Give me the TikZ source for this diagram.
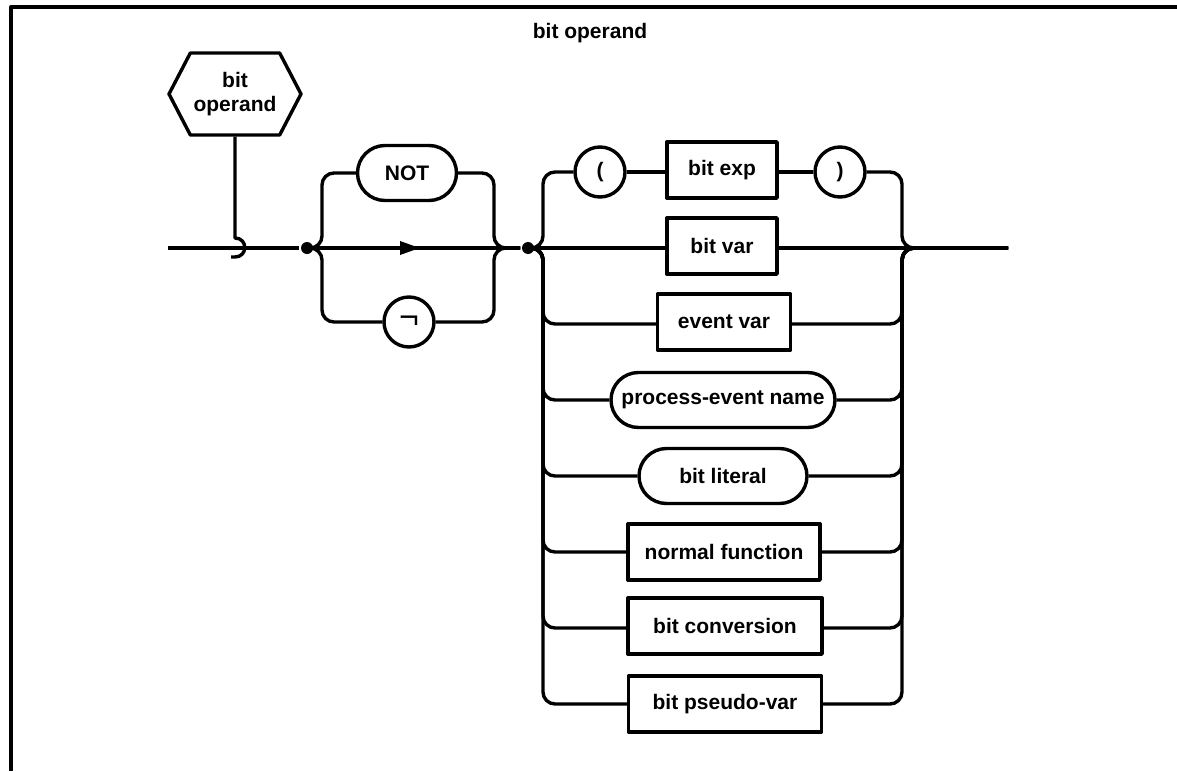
\documentclass[tikz,border=0pt]{standalone}
\usepackage{fontspec}
\setmainfont{Liberation Sans}
\usetikzlibrary{shapes.misc,shapes.symbols,arrows.meta}
\begin{document}
\begin{tikzpicture}[x=0.5pt,y=-0.5pt,
  line width=1.7pt, line join=round,
  every node/.style={font=\fontsize{10.5}{12}\selectfont\bfseries, inner sep=0pt},
  term/.style={draw, rectangle, minimum height=28pt},
  lit/.style={draw, rounded rectangle, minimum height=27.5pt},
  sym/.style={draw, circle, minimum size=25pt},
  conn/.style={rounded corners=6pt},
  dot/.style={circle, fill, minimum size=6pt}
]
\useasboundingbox (0,0) rectangle (1177,771);
\draw[line width=2pt] (11,771) -- (11,7) -- (1177,7);

\node (title) at (590,33) {bit operand};

\node[draw, signal, signal to=west and east, signal pointer angle=125,
      minimum width=66pt, minimum height=41pt, align=center,
      font=\fontsize{10.5}{12}\selectfont\bfseries] (hex) at (235,94) {bit\\operand};

\coordinate (start) at (168,248);
\node[dot] (d1) at (307,248) {};
\coordinate (arr) at (420,248);
\node[dot] (d2) at (528,248) {};
\coordinate (exit) at (1008,248);
\coordinate (hk) at (235,238);

\draw (start) -- (d1);
\draw (hex.south) -- (hk) .. controls +(13,0) and +(13,0) .. (235,257) -- +(-4,0);

\draw (d1) -- (d2);
\draw[-{Triangle[length=10pt,width=6.5pt]}] (d1) -- (arr);

\node[lit, minimum width=49.5pt] (not) at (407,173) {NOT};
\node[sym, font=\fontsize{17}{17}\selectfont] (neg) at (409,322) {¬};
\draw[conn] (d1) -- (322,248) -- (322,173) -- (not.west);
\draw[conn] (not.east) -- (494,173) -- (494,248) -- (d2);
\draw[conn] (d1) -- (322,248) -- (322,322) -- (neg.west);
\draw[conn] (neg.east) -- (494,322) -- (494,248) -- (d2);

\node[sym] (lp) at (600,172) {(};
\node[term, minimum width=55pt] (bexp) at (722,170) {bit exp};
\node[sym] (rp) at (840,172) {)};
\node[term, minimum width=55pt] (bvar) at (722,246) {bit var};
\node[term, minimum width=66.5pt] (evar) at (724,322) {event var};
\node[lit, minimum width=112pt] (pen) at (723,400) {process-event name};
\node[lit, minimum width=84pt] (blit) at (723,476) {bit literal};
\node[term, minimum width=96pt] (nfun) at (724,552) {normal function};
\node[term, minimum width=97pt] (bconv) at (725,626) {bit conversion};
\node[term, minimum width=96.5pt] (bpv) at (725,704) {bit pseudo-var};

\draw (d2) -- (d2 -| bvar.west);
\draw (bvar.east |- exit) -- (exit);
\draw[conn] (d2) -- (543,248) -- (543,172) -- (lp);
\draw (lp) -- (lp -| bexp.west);
\draw (bexp.east |- rp) -- (rp);
\draw[conn] (rp) -- (902,172) -- (902,248) -- (exit);
\foreach \n/\y in {evar/324, pen/400, blit/476, nfun/552, bconv/628, bpv/704}{
  \draw[conn] (d2) -- (543,248) -- (543,\y) -- (\n.west |- 0,\y);
  \draw[conn] (\n.east |- 0,\y) -- (902,\y) -- (902,248) -- (exit);
}
\end{tikzpicture}
\end{document}
